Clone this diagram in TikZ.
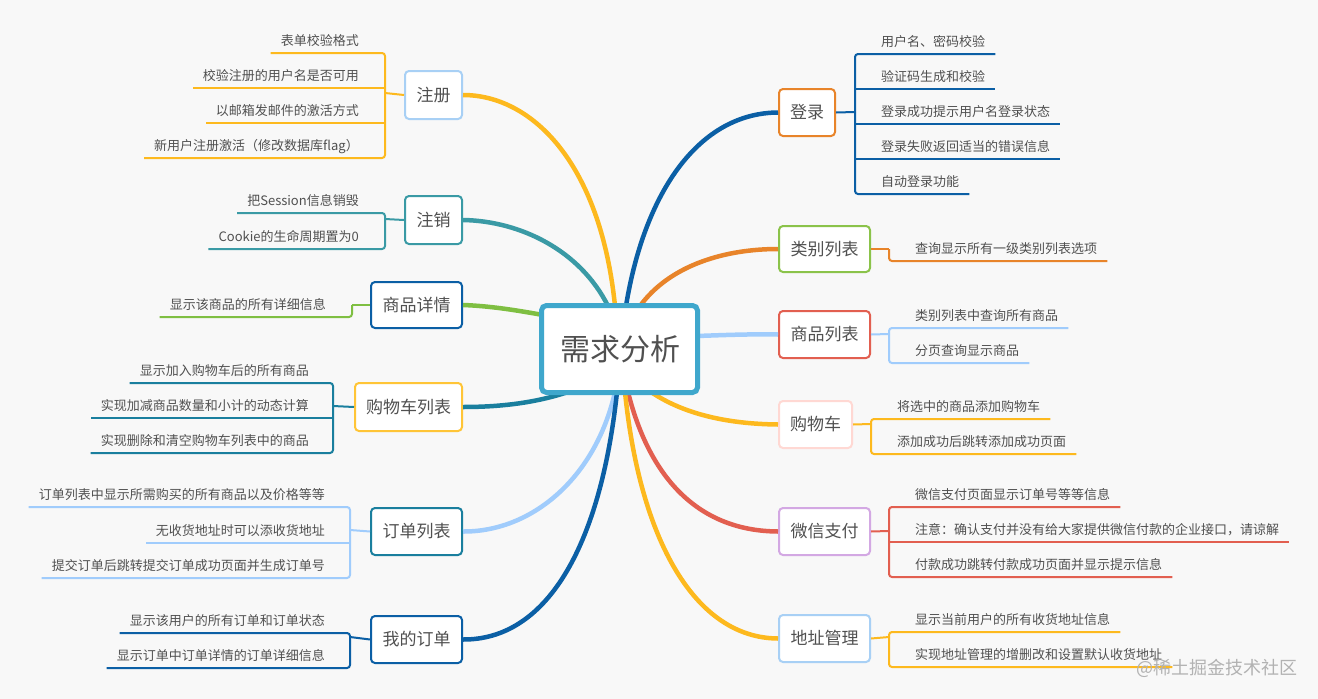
\documentclass[tikz,border=0pt]{standalone}
\usepackage{fontspec}
\setmainfont{Noto Sans CJK SC}
\definecolor{bgc}{HTML}{F8F8F8}
\definecolor{txt}{HTML}{505050}
\definecolor{cCenter}{HTML}{3FA7CC}
\definecolor{cYellow}{HTML}{FDB91E}
\definecolor{cTeal}{HTML}{3A9AA5}
\definecolor{cGreen}{HTML}{7FBF42}
\definecolor{cDeep}{HTML}{1A7F9E}
\definecolor{cSky}{HTML}{A0CCFC}
\definecolor{cBlue}{HTML}{0B5FA5}
\definecolor{cOrange}{HTML}{E8842A}
\definecolor{cRed}{HTML}{E25F50}
\definecolor{bdSky}{HTML}{A8D0F5}
\definecolor{bdGold}{HTML}{FFC537}
\definecolor{bdLime}{HTML}{8BC34A}
\definecolor{bdPink}{HTML}{FFD8D3}
\definecolor{bdPurple}{HTML}{D3A8E3}
\tikzset{
  topicbox/.style={draw,line width=2pt,fill=white,rounded corners=4pt,inner sep=0pt,text=txt,font=\fontsize{17}{20}\selectfont},
  centerbox/.style={draw=cCenter,line width=5pt,fill=white,rounded corners=5pt,inner sep=0pt,text=txt,font=\fontsize{30}{36}\selectfont,minimum width=156pt,minimum height=87pt},
  leafbox/.style={inner xsep=10pt,inner ysep=4pt,text height=10pt,text depth=3pt,text=txt,font=\fontsize{13}{16}\selectfont},
  branch/.style={line width=4.5pt},
  twig/.style={line width=2pt,rounded corners=3pt},
  twigmid/.style={line width=2pt},
  stub/.style={line width=2pt},
  mark text/.style={text=black!30,font=\fontsize{18}{22}\selectfont,inner sep=0pt}
}
% name, x1, x2, y1, y2, border colour, text
\newcommand{\topicnode}[7]{%
  \node[topicbox,draw=#6,minimum width={(#3-#2-2)*1pt},minimum height={(#5-#4-2)*1pt}] (#1) at ({(#2+#3)/2},{(#4+#5)/2}) {#7};}
% left leaf: name, trunk x, line y, text
\newcommand{\leafL}[4]{\node[leafbox,anchor=south east] (#1) at (#2,#3) {#4\kern16pt};}
% right leaf
\newcommand{\leafR}[4]{\node[leafbox,anchor=south west] (#1) at (#2,#3) {\kern16pt #4};}
\begin{document}
\begin{tikzpicture}[x=1pt,y=-1pt]
\useasboundingbox (0,0) rectangle (1318,699);
\fill[bgc] (0,0) rectangle (1318,699);

% main branches, ends on the central box
\coordinate (c1) at (615,306);
\coordinate (c2) at (608,306);
\coordinate (c3) at (543,315);
\coordinate (c4) at (568,392);
\coordinate (c5) at (615,392);
\coordinate (c6) at (617,392);
\coordinate (c7) at (626,306);
\coordinate (c8) at (640,306);
\coordinate (c9) at (697,336);
\coordinate (c10) at (651,392);
\coordinate (c11) at (628,392);
\coordinate (c12) at (625,392);

% topics
\topicnode{zc}{404}{463}{70}{120}{bdSky}{注册}
\topicnode{zx}{404}{463}{195}{245}{cTeal}{注销}
\topicnode{xq}{370}{463}{281}{329}{cBlue}{商品详情}
\topicnode{gl}{354}{463}{382}{432}{bdGold}{购物车列表}
\topicnode{dd}{370}{463}{507}{556}{cDeep}{订单列表}
\topicnode{wd}{370}{463}{615}{664}{cBlue}{我的订单}
\topicnode{dl}{778}{836}{88}{137}{cOrange}{登录}
\topicnode{lb}{778}{871}{225}{273}{bdLime}{类别列表}
\topicnode{sp}{778}{871}{310}{359}{cRed}{商品列表}
\topicnode{gw}{778}{853}{400}{449}{bdPink}{购物车}
\topicnode{wx}{778}{871}{507}{556}{bdPurple}{微信支付}
\topicnode{dz}{778}{871}{614}{663}{bdSky}{地址管理}

\draw[branch,cYellow] (zc.east) .. controls (530,95) and (600,160) .. (c1);
\draw[branch,cTeal] (zx.east) .. controls (520,221) and (580,250) .. (c2);
\draw[branch,cGreen] (xq.east) .. controls (490,306) and (515,310) .. (c3);
\draw[branch,cDeep] (gl.east) .. controls (500,407) and (535,403) .. (c4);
\draw[branch,cSky] (dd.east) .. controls (530,532) and (595,480) .. (c5);
\draw[branch,cBlue] (wd.east) .. controls (545,640) and (600,550) .. (c6);
\draw[branch,cBlue] (dl.west) .. controls (700,113) and (645,190) .. (c7);
\draw[branch,cOrange] (lb.west) .. controls (725,249) and (670,265) .. (c8);
\draw[branch,cSky] (sp.west) .. controls (750,334) and (725,335) .. (c9);
\draw[branch,cYellow] (gw.west) .. controls (730,424) and (685,415) .. (c10);
\draw[branch,cRed] (wx.west) .. controls (700,531) and (650,480) .. (c11);
\draw[branch,cYellow] (dz.west) .. controls (695,638) and (640,540) .. (c12);

% central box
\node[centerbox] (c) at (619.5,349) {\kern2pt 需求分析};

% 注册
\coordinate (zcj) at (385,93);
\draw[stub,cYellow] (zc.west) -- (zcj);
\leafL{zc1}{385}{53}{表单校验格式}
\leafL{zc2}{385}{88}{校验注册的用户名是否可用}
\leafL{zc3}{385}{123}{以邮箱发邮件的激活方式}
\leafL{zc4}{385}{158}{新用户注册激活（修改数据库flag）}
\draw[twig,cYellow] (zcj) |- (zc1.south west);
\draw[twigmid,cYellow] (zcj) |- (zc2.south west);
\draw[twigmid,cYellow] (zcj) |- (zc3.south west);
\draw[twig,cYellow] (zcj) |- (zc4.south west);
% 注销
\coordinate (zxj) at (385,219);
\draw[stub,cTeal] (zx.west) -- (zxj);
\leafL{zx1}{385}{213}{把Session信息销毁}
\leafL{zx2}{385}{249}{Cookie的生命周期置为0}
\draw[twig,cTeal] (zxj) |- (zx1.south west);
\draw[twig,cTeal] (zxj) |- (zx2.south west);
% 商品详情
\coordinate (xqj) at (352,305);
\draw[stub,cGreen] (xq.west) -- (xqj);
\leafL{xq1}{352}{317}{显示该商品的所有详细信息}
\draw[twig,cGreen] (xqj) |- (xq1.south west);
% 购物车列表
\coordinate (glj) at (333,406);
\draw[stub,cDeep] (gl.west) -- (glj);
\leafL{gl1}{335}{383}{显示加入购物车后的所有商品}
\leafL{gl2}{335}{418}{实现加减商品数量和小计的动态计算}
\leafL{gl3}{335}{453}{实现删除和清空购物车列表中的商品}
\draw[twig,cDeep] (glj) |- (gl1.south west);
\draw[twigmid,cDeep] (glj) |- (gl2.south west);
\draw[twig,cDeep] (glj) |- (gl3.south west);
% 订单列表
\coordinate (ddj) at (350,530);
\draw[stub,cSky] (dd.west) -- (ddj);
\leafL{dd1}{351}{507}{订单列表中显示所需购买的所有商品以及价格等等}
\leafL{dd2}{351}{543}{无收货地址时可以添收货地址}
\leafL{dd3}{351}{578}{提交订单后跳转提交订单成功页面并生成订单号}
\draw[twig,cSky] (ddj) |- (dd1.south west);
\draw[twigmid,cSky] (ddj) |- (dd2.south west);
\draw[twig,cSky] (ddj) |- (dd3.south west);
% 我的订单
\coordinate (wdj) at (350,637);
\draw[stub,cBlue] (wd.west) -- (wdj);
\leafL{wd1}{351}{633}{显示该用户的所有订单和订单状态}
\leafL{wd2}{351}{668}{显示订单中订单详情的订单详细信息}
\draw[twig,cBlue] (wdj) |- (wd1.south west);
\draw[twig,cBlue] (wdj) |- (wd2.south west);
% 登录
\coordinate (dlj) at (855,112);
\draw[stub,cBlue] (dl.east) -- (dlj);
\leafR{dl1}{855}{54}{用户名、密码校验}
\leafR{dl2}{855}{89}{验证码生成和校验}
\leafR{dl3}{855}{124}{登录成功提示用户名登录状态}
\leafR{dl4}{855}{159}{登录失败返回适当的错误信息}
\leafR{dl5}{855}{194}{自动登录功能}
\draw[twig,cBlue] (dlj) |- (dl1.south east);
\draw[twigmid,cBlue] (dlj) |- (dl2.south east);
\draw[twigmid,cBlue] (dlj) |- (dl3.south east);
\draw[twigmid,cBlue] (dlj) |- (dl4.south east);
\draw[twig,cBlue] (dlj) |- (dl5.south east);
% 类别列表
\coordinate (lbj) at (889,249);
\draw[stub,cOrange] (lb.east) -- (lbj);
\leafR{lb1}{889}{261}{查询显示所有一级类别列表选项}
\draw[twig,cOrange] (lbj) |- (lb1.south east);
% 商品列表
\coordinate (spj) at (889,334);
\draw[stub,cSky] (sp.east) -- (spj);
\leafR{sp1}{889}{328}{类别列表中查询所有商品}
\leafR{sp2}{889}{363}{分页查询显示商品}
\draw[twig,cSky] (spj) |- (sp1.south east);
\draw[twig,cSky] (spj) |- (sp2.south east);
% 购物车
\coordinate (gwj) at (871,424);
\draw[stub,cYellow] (gw.east) -- (gwj);
\leafR{gw1}{871}{419}{将选中的商品添加购物车}
\leafR{gw2}{871}{454}{添加成功后跳转添加成功页面}
\draw[twig,cYellow] (gwj) |- (gw1.south east);
\draw[twig,cYellow] (gwj) |- (gw2.south east);
% 微信支付
\coordinate (wxj) at (889,531);
\draw[stub,cRed] (wx.east) -- (wxj);
\leafR{wx1}{889}{507}{微信支付页面显示订单号等等信息}
\leafR{wx2}{889}{542}{注意：确认支付并没有给大家提供微信付款的企业接口，请谅解}
\leafR{wx3}{889}{577}{付款成功跳转付款成功页面并显示提示信息}
\draw[twig,cRed] (wxj) |- (wx1.south east);
\draw[twigmid,cRed] (wxj) |- (wx2.south east);
\draw[twig,cRed] (wxj) |- (wx3.south east);
% 地址管理
\coordinate (dzj) at (889,637);
\draw[stub,cYellow] (dz.east) -- (dzj);
\leafR{dz1}{889}{632}{显示当前用户的所有收货地址信息}
\leafR{dz2}{889}{667}{实现地址管理的增删改和设置默认收货地址}
\draw[twig,cYellow] (dzj) |- (dz1.south east);
\draw[twig,cYellow] (dzj) |- (dz2.south east);
% watermark
\node[mark text,anchor=east] (wm) at (1298,668) {@稀土掘金技术社区};
\end{tikzpicture}
\end{document}
